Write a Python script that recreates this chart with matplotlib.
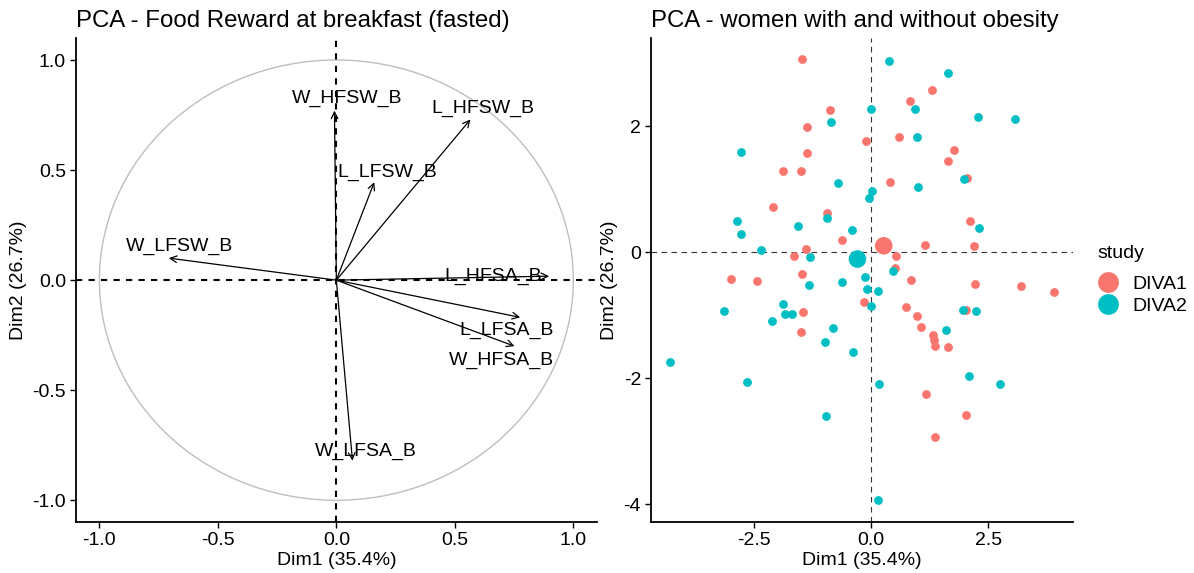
import numpy as np
import matplotlib
matplotlib.use("Agg")
import matplotlib.pyplot as plt
from matplotlib.lines import Line2D

plt.rcParams['font.family'] = ['Liberation Sans', 'DejaVu Sans']
plt.rcParams['axes.unicode_minus'] = False

# variables (correlation circle)
var_names = ['W_HFSW_B', 'L_HFSW_B', 'L_LFSW_B', 'W_LFSW_B',
             'L_HFSA_B', 'L_LFSA_B', 'W_HFSA_B', 'W_LFSA_B']
var_dim1 = [-0.008, 0.566, 0.160, -0.707, 0.898, 0.776, 0.752, 0.068]
var_dim2 = [0.770, 0.730, 0.445, 0.100, 0.018, -0.169, -0.300, -0.820]
# label positions (repelled) for each variable
lab_dim1 = [0.044, 0.620, 0.214, -0.660, 0.663, 0.720, 0.695, 0.125]
lab_dim2 = [0.825, 0.780, 0.490, 0.154, 0.018, -0.230, -0.363, -0.776]

# individuals, DIVA1
diva1_x = [-1.48, -0.87, -1.36, -1.36, -1.87, -1.49, -2.09, -0.94, -0.11, 0.60,
           0.41, -0.61, -1.39, -1.65, -1.48, -2.99, -2.44, 0.54, 0.51, -1.46,
           -1.50, -0.16, 1.29, 0.84, 1.77, 1.64, 2.05, 2.11, 1.16, 2.20,
           0.86, 2.22, 3.20, 3.90, 0.75, 0.98, 1.07, 2.03, 1.33, 1.35,
           1.37, 1.64, 1.18, 2.03, 1.36]
diva1_y = [3.06, 2.25, 1.98, 1.57, 1.29, 1.29, 0.72, 0.62, 1.77, 1.82,
           1.11, 0.19, 0.05, -0.06, -0.34, -0.43, -0.46, -0.06, -0.26, -0.95,
           -1.27, -0.79, 2.57, 2.40, 1.62, 1.44, 1.17, 0.50, 0.11, 0.10,
           -0.44, -0.50, -0.54, -0.64, -0.87, -1.01, -1.19, -0.92, -1.32, -1.40,
           -1.49, -1.51, -2.25, -2.58, -2.93]

# individuals, DIVA2
diva2_x = [0.38, 0.00, -0.86, -2.77, -0.71, 0.01, -0.04, -0.94, -2.85, -1.55,
           -0.41, -2.77, -2.35, -1.31, 0.46, -0.12, -1.33, -0.61, -0.09, 0.15,
           0.00, -1.87, -3.13, -1.84, -1.68, -2.11, -0.82, -0.99, -0.38, -4.29,
           -2.65, 0.16, -0.96, 0.14, 1.63, 0.93, 2.28, 3.08, 0.97, 1.98,
           1.00, 2.30, 1.96, 2.23, 1.59, 2.08, 2.74]
diva2_y = [3.03, 2.28, 2.07, 1.59, 1.10, 0.97, 0.86, 0.54, 0.50, 0.42,
           0.35, 0.28, 0.04, -0.08, -0.30, -0.40, -0.52, -0.48, -0.58, -0.61,
           -0.86, -0.83, -0.93, -0.98, -0.99, -1.10, -1.20, -1.43, -1.58, -1.74,
           -2.07, -2.10, -2.60, -3.94, 2.85, 2.27, 2.15, 2.11, 1.83, 1.16,
           1.03, 0.38, -0.92, -0.94, -1.23, -1.96, -2.10]

# group centres
groups = ['DIVA1', 'DIVA2']
centre_x = [0.27, -0.29]
centre_y = [0.10, -0.11]
colors = ['#F8766D', '#00BFC4']

fig = plt.figure(figsize=(11.94, 5.73), dpi=100)

def style_axes(ax):
    for s in ['top', 'right']:
        ax.spines[s].set_visible(False)
    for s in ['left', 'bottom']:
        ax.spines[s].set_linewidth(1.3)
    ax.tick_params(labelsize=14, length=4, width=1, colors='black', pad=3)

# ---- left: variables ----
ax1 = fig.add_axes([0.0634, 0.0885, 0.4366, 0.8452])
t = np.linspace(0, 2 * np.pi, 400)
ax1.plot(np.cos(t), np.sin(t), color='#BEBEBE', lw=1)
ax1.axhline(0, color='black', lw=1.5, ls=(0, (3, 3)))
ax1.axvline(0, color='black', lw=1.5, ls=(0, (3, 3)))
for i in range(len(var_names)):
    ax1.annotate('', xy=(var_dim1[i], var_dim2[i]), xytext=(0, 0),
                 arrowprops=dict(arrowstyle='->', lw=0.9, color='black',
                                 mutation_scale=12, shrinkA=0, shrinkB=0))
    ax1.text(lab_dim1[i], lab_dim2[i], var_names[i], fontsize=14,
             ha='center', va='center')
ax1.set_xlim(-1.1, 1.1)
ax1.set_ylim(-1.1, 1.1)
ax1.set_xticks([-1.0, -0.5, 0.0, 0.5, 1.0])
ax1.set_yticks([-1.0, -0.5, 0.0, 0.5, 1.0])
ax1.set_xticklabels(['-1.0', '-0.5', '0.0', '0.5', '1.0'])
ax1.set_yticklabels(['-1.0', '-0.5', '0.0', '0.5', '1.0'])
ax1.set_xlabel('Dim1 (35.4%)', fontsize=14, labelpad=2)
ax1.set_ylabel('Dim2 (26.7%)', fontsize=14, labelpad=4)
ax1.set_title('PCA - Food Reward at breakfast (fasted)', fontsize=17.3,
              loc='left', pad=8)
style_axes(ax1)

# ---- right: individuals ----
ax2 = fig.add_axes([0.545, 0.0885, 0.3534, 0.8452])
ax2.axhline(0, color='#333333', lw=0.8, ls=(0, (5, 4)))
ax2.axvline(0, color='#333333', lw=0.8, ls=(0, (5, 4)))
ax2.scatter(diva1_x, diva1_y, s=40, color=colors[0], linewidths=0, zorder=3)
ax2.scatter(diva2_x, diva2_y, s=40, color=colors[1], linewidths=0, zorder=3)
ax2.scatter(centre_x, centre_y, s=160, color=colors, linewidths=0, zorder=4)
ax2.set_xlim(-4.70, 4.30)
ax2.set_ylim(-4.29, 3.40)
ax2.set_xticks([-2.5, 0.0, 2.5])
ax2.set_xticklabels(['-2.5', '0.0', '2.5'])
ax2.set_yticks([-4, -2, 0, 2])
ax2.set_xlabel('Dim1 (35.4%)', fontsize=14, labelpad=2)
ax2.set_ylabel('Dim2 (26.7%)', fontsize=14, labelpad=4)
ax2.set_title('PCA - women with and without obesity', fontsize=17.3,
              loc='left', pad=8)
style_axes(ax2)

# legend
fig.text(1097 / 1194, 1 - 253 / 573, 'study', fontsize=14, ha='left', va='center')
handles = [Line2D([], [], marker='o', ls='', markersize=15, color=c,
                  markeredgewidth=0) for c in colors]
fig.legend(handles, groups, loc='upper left',
           bbox_to_anchor=(1096 / 1194, 1 - 275 / 573), frameon=False,
           fontsize=14, handletextpad=0.65, labelspacing=0.25,
           borderpad=0, borderaxespad=0, handlelength=1.2)

fig.savefig('out.png', dpi=100)
